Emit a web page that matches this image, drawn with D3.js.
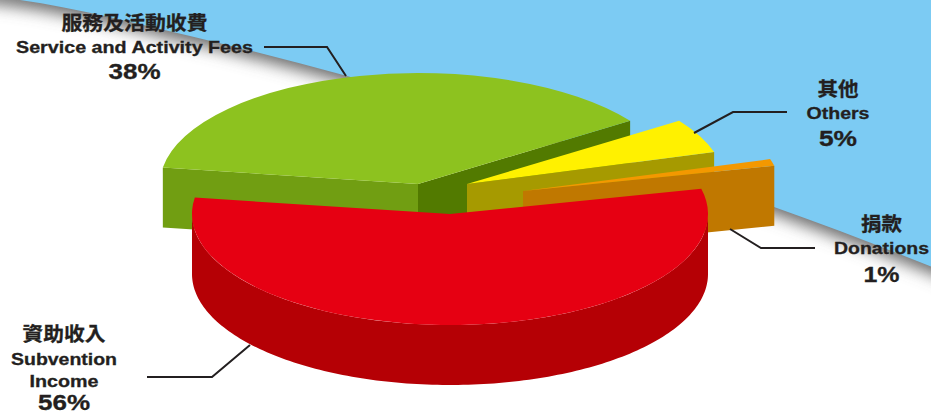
<!DOCTYPE html>
<html>
<head>
<meta charset="utf-8">
<style>
  html, body { margin: 0; padding: 0; background: #fff; }
  svg { display: block; }
  text { font-family: "Liberation Sans", "Noto Sans CJK TC", sans-serif; font-weight: 700; fill: #231f20; text-anchor: middle; stroke: #231f20; stroke-width: 0.3; }
</style>
<script src="https://cdnjs.cloudflare.com/ajax/libs/d3/7.8.5/d3.min.js"></script>
</head>
<body>
<svg id="chart" width="931" height="415"></svg>
<script>
// Income shares, in drawing order (back to front)
const categories = ["Service and Activity Fees", "Others", "Donations", "Subvention Income"];
const shares = [38, 5, 1, 56];
const topColors = ["#8dc21f", "#fff100", "#f39800", "#e60012"];
const leftWallColors = ["#719e12", null, null, null];
const cutWallColors = ["#527a00", "#a69a00", "#c07800", null];
const outerWallColor = "#b50005";
const centersX = [418, 467, 523, 450];
const centersY = [184, 184, 191, 214];

const labelLines = [
  ["服務及活動收費", "Service and Activity Fees", "38%"],
  ["其他", "Others", "5%"],
  ["捐款", "Donations", "1%"],
  ["資助收入", "Subvention", "Income", "56%"]
];
const blockX = [134.5, 838, 881.5, 64];
const blockY = [[30, 52.5, 79], [96, 119, 146], [231, 254, 282], [341, 365, 387, 410]];
const lineWidths = [[146, 237, 52], [41, 63, 38], [41, 95, 36], [83, 106, 69, 52]];

const width = 931, height = 415;
const rx = 258, ry = 111, depth = 60;
const svg = d3.select("#chart");

// Backdrop: a sky panel with a soft shadow falling on the white page below its edge
const skyEdge = [[-20, -5], [20, 0], [190, 36], [347, 76], [560, 140], [774, 207], [950, 274]];
const edgePath = d3.line().curve(d3.curveMonotoneX)(skyEdge);

svg.append("defs").append("filter").attr("id", "edgeShadow")
  .attr("x", "-5%").attr("y", "-20%").attr("width", "110%").attr("height", "140%")
  .append("feGaussianBlur").attr("stdDeviation", 8);

const skyShape = edgePath + `L950,-20L-20,-20Z`;
svg.append("rect").attr("width", width).attr("height", height).attr("fill", "#fff");
svg.append("path").attr("d", skyShape)
  .attr("transform", "translate(0,7)")
  .attr("fill", "#6a6a6a").attr("filter", "url(#edgeShadow)");
svg.append("path").attr("d", skyShape).attr("fill", "#7ccbf3");

// Pie layout: angles come from the shares; the ellipse squashes the disc into perspective
const startDeg = -81.5;
const slices = d3.pie().sort(null)
  .startAngle(startDeg * Math.PI / 180)
  .endAngle((startDeg + 360) * Math.PI / 180)(shares);
const arc = d3.arc().innerRadius(0).outerRadius(rx);
const project = (i, a, h = 0) => [
  centersX[i] + rx * Math.sin(a),
  centersY[i] - ry * Math.cos(a) + h
];

const wall = d3.line();
function cutWall(i, a, color) {
  svg.append("path")
    .attr("d", wall([[centersX[i], centersY[i]], project(i, a), project(i, a, depth), [centersX[i], centersY[i] + depth]]) + "Z")
    .attr("fill", color);
}

slices.forEach((s, i) => {
  if (leftWallColors[i]) cutWall(i, s.startAngle, leftWallColors[i]);
  if (cutWallColors[i]) cutWall(i, s.endAngle, cutWallColors[i]);

  // The rim wall shows only along the front half of the disc
  if (!cutWallColors[i]) {
    const from = Math.max(s.startAngle, Math.PI / 2), to = Math.min(s.endAngle, 3 * Math.PI / 2);
    const steps = d3.range(from, to, 0.02).concat([to]);
    const rimTop = steps.map(a => project(i, a));
    const rimBottom = steps.map(a => project(i, a, depth)).reverse();
    svg.append("path").attr("d", wall(rimTop.concat(rimBottom)) + "Z").attr("fill", outerWallColor);
  }

  svg.append("path")
    .attr("transform", `translate(${centersX[i]},${centersY[i]}) scale(1,${ry / rx})`)
    .attr("d", arc(s))
    .attr("fill", topColors[i]);
});

// Leader lines
const leaders = [
  [[264, 47], [327, 47], [346, 76]],
  [[787, 112], [733, 112], [694, 133]],
  [[815, 248], [761, 248], [730, 229]],
  [[147, 377], [212, 377], [250, 345]]
];
svg.selectAll("path.leader").data(leaders).join("path")
  .attr("class", "leader")
  .attr("d", d3.line())
  .attr("fill", "none")
  .attr("stroke", "#231f20")
  .attr("stroke-width", 2);

// Label blocks: Chinese name, English name(s), percentage, stretched to the wide display face
labelLines.forEach((lines, i) => {
  lines.forEach((line, j) => {
    const isPct = j === lines.length - 1;
    const isZh = j === 0;
    svg.append("text")
      .attr("x", blockX[i]).attr("y", blockY[i][j])
      .attr("font-size", isPct ? 22 : isZh ? 19.5 : 16.5)
      .attr("textLength", lineWidths[i][j])
      .attr("lengthAdjust", "spacingAndGlyphs")
      .text(line);
  });
});
</script>
</body>
</html>
